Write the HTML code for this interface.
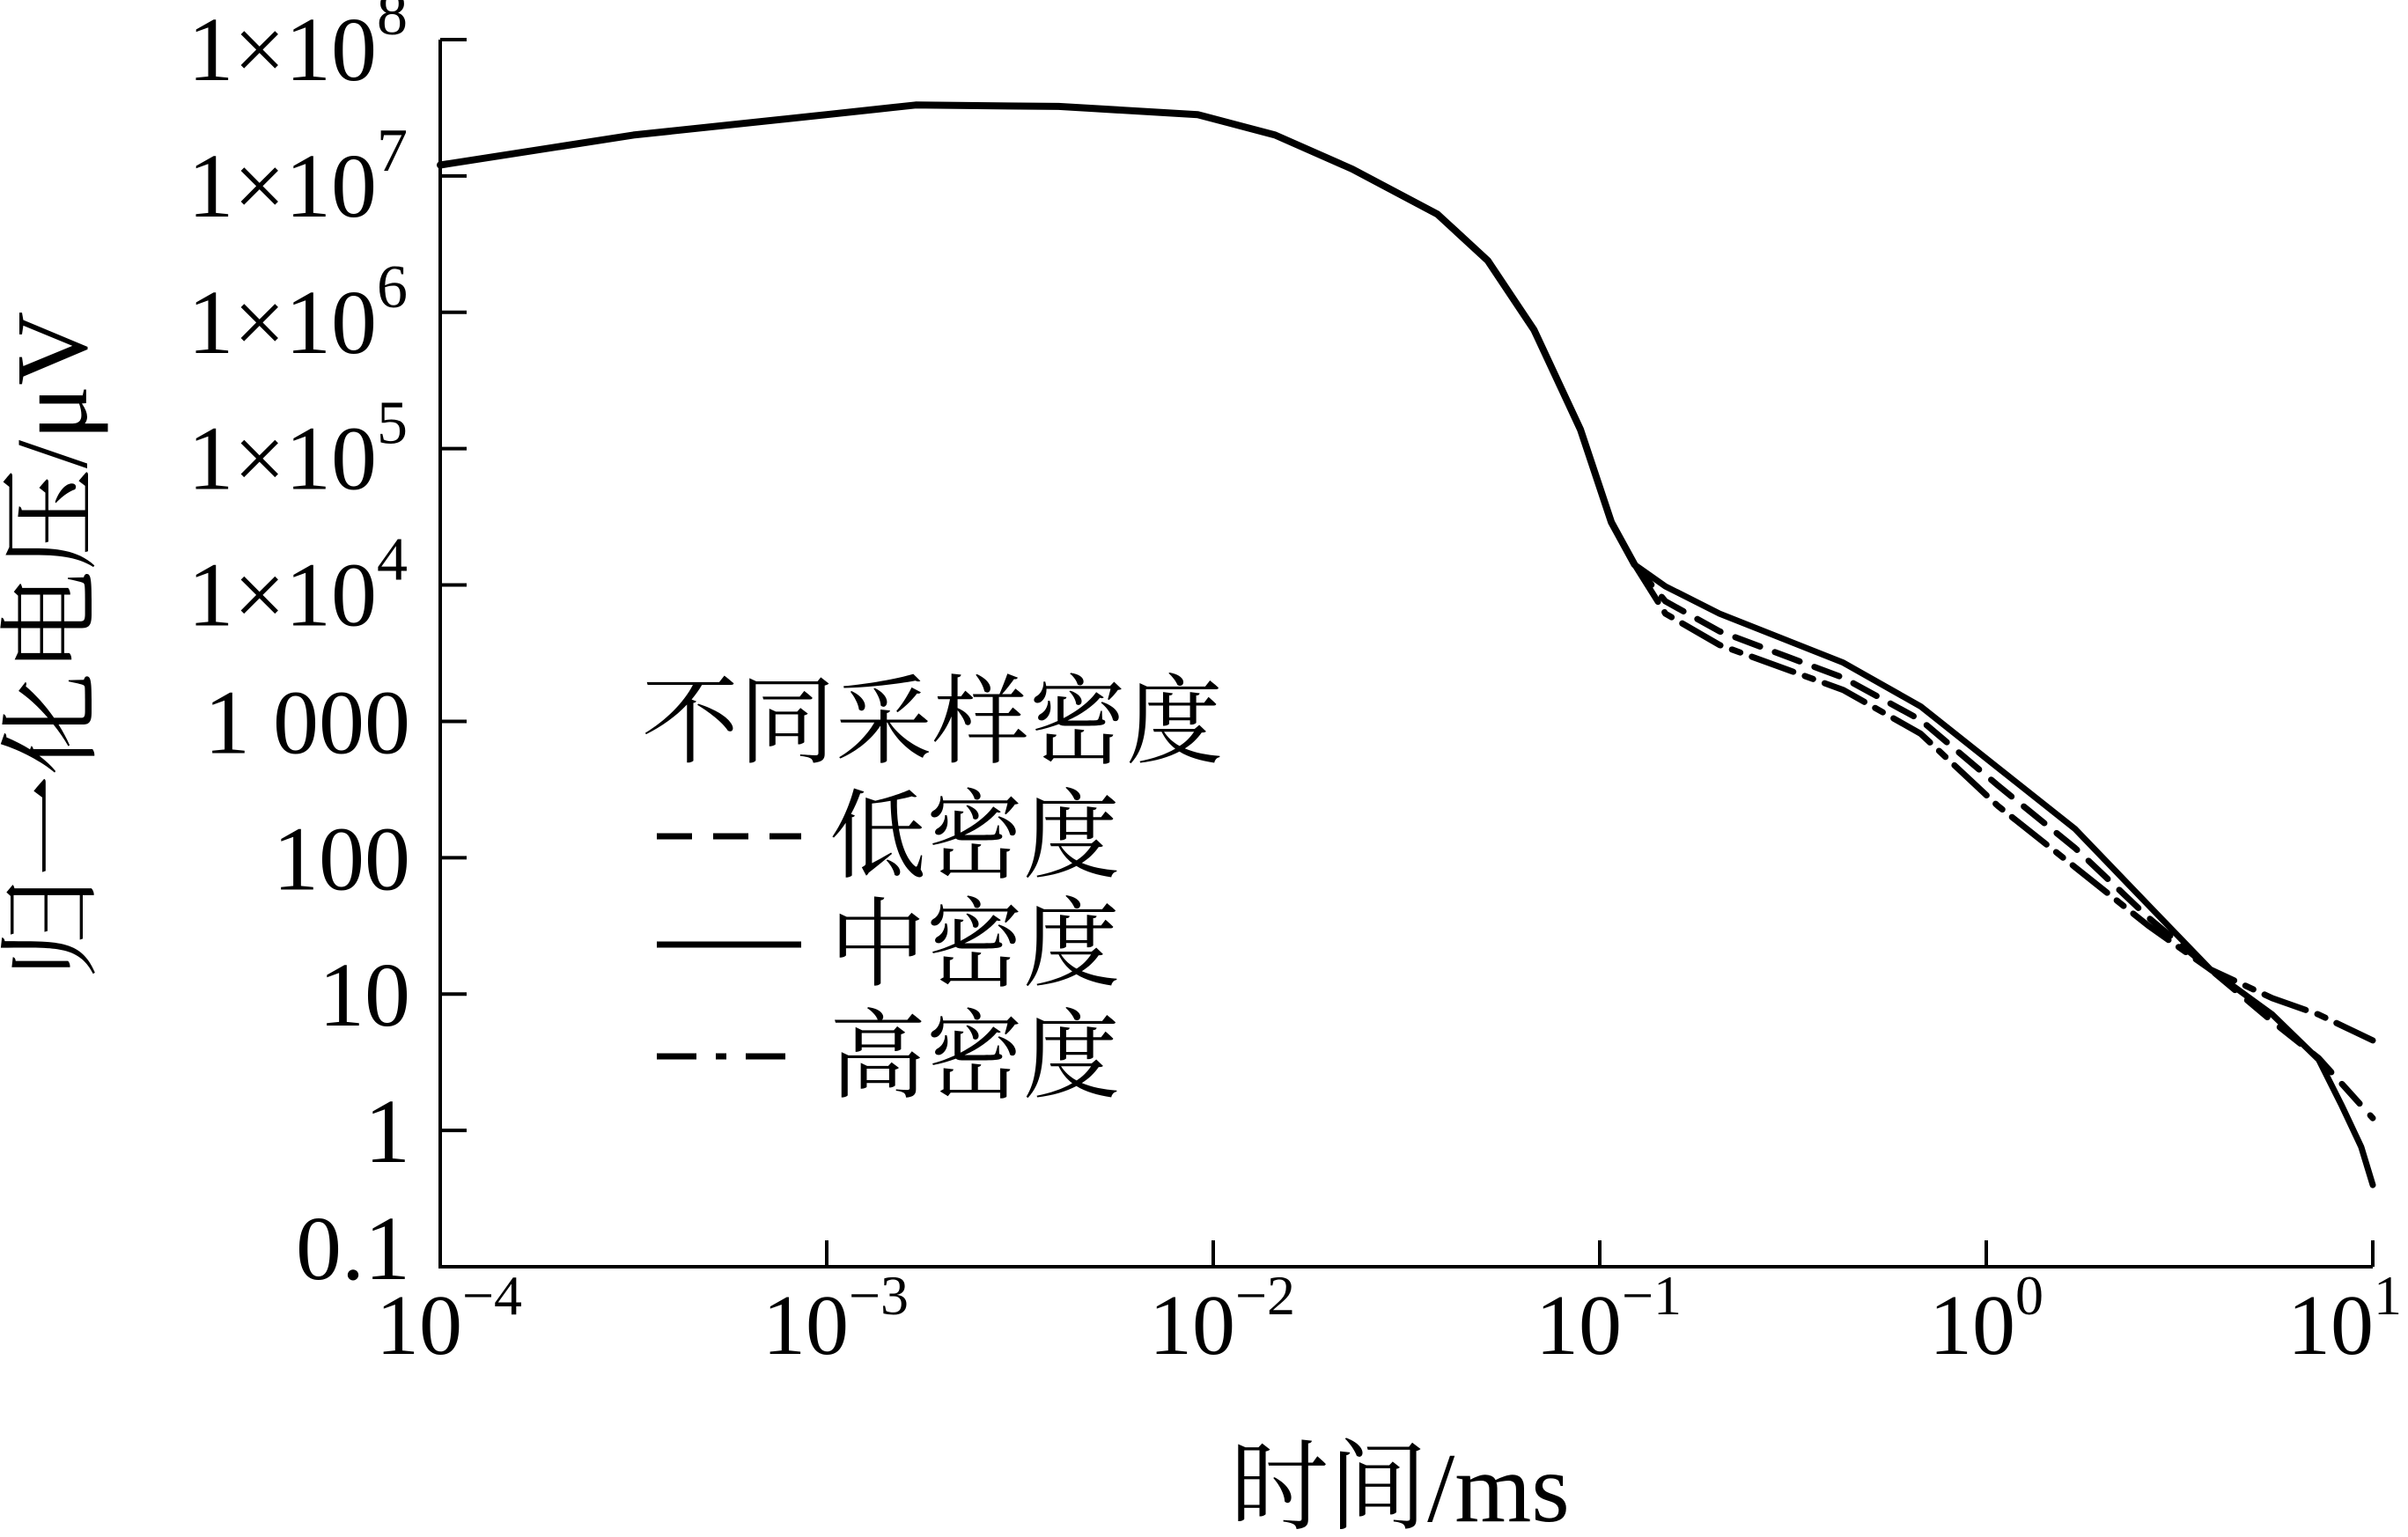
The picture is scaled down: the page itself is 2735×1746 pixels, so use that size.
<!DOCTYPE html>
<html><head><meta charset="utf-8"><style>
html,body{margin:0;padding:0;background:#fff;}
svg{display:block;}
text{font-family:"Liberation Serif","Noto Serif CJK SC",serif;fill:#000;}
</style></head><body>
<svg id="chart" width="2735" height="1746" viewBox="0 0 2735 1746" xmlns="http://www.w3.org/2000/svg">
<g id="axes"></g>
<g id="series"></g>
<g id="legend">
<text x="729" y="858" font-size="110">不同采样密度</text>
<line x1="746" y1="950" x2="910" y2="950" stroke="#000" stroke-width="7" stroke-dasharray="40,24"/>
<text x="942" y="988" font-size="110">低密度</text>
<line x1="746" y1="1073" x2="910" y2="1073" stroke="#000" stroke-width="7"/>
<text x="942" y="1111" font-size="110">中密度</text>
<line x1="746" y1="1200" x2="910" y2="1200" stroke="#000" stroke-width="7" stroke-dasharray="45,22,12,22"/>
<text x="942" y="1238" font-size="110">高密度</text>
</g>
<text x="1590" y="1728" font-size="112" text-anchor="middle">时间/ms</text>
<text transform="translate(98,733) rotate(-90)" font-size="116" text-anchor="middle">归一化电压/μV</text>
</svg>
<script>
const xTicks = [-4,-3,-2,-1,0,1];
const yTicks = [8,7,6,5,4,3,2,1,0,-1];
const yTickLabels = ["1×10^8","1×10^7","1×10^6","1×10^5","1×10^4","1 000","100","10","1","0.1"];
const commonT = [-4,-3.5,-3,-2.77,-2.4,-2.04,-1.84,-1.64,-1.42,-1.29,-1.17,-1.05,-0.97,-0.91];
const commonV = [7.08,7.30,7.45,7.52,7.51,7.45,7.30,7.05,6.72,6.38,5.87,5.14,4.46,4.15];
const midT = [-0.83,-0.69,-0.37,-0.17,0.03,0.23,0.42,0.58,0.74,0.86,0.92,0.97,1.0];
const midV = [3.99,3.79,3.43,3.11,2.66,2.21,1.65,1.18,0.85,0.52,0.18,-0.12,-0.40];
const lowT = [-0.83,-0.69,-0.37,-0.17,0.03,0.23,0.42,0.58,0.74,0.86,1.0];
const lowV = [3.88,3.66,3.32,3.01,2.53,2.07,1.56,1.18,0.80,0.53,0.09];
const highT = [-0.83,-0.69,-0.37,-0.17,0.03,0.23,0.42,0.58,0.74,0.86,1.0];
const highV = [3.79,3.56,3.23,2.91,2.38,1.93,1.50,1.18,0.97,0.85,0.66];

const X0=500, X1=2695, Y0=45, Y1=1439;
function xs(v){return X0+(v-(-4))/5*(X1-X0);}
function ys(v){return Y0+(8-v)/9*(Y1-Y0);}
const NS="http://www.w3.org/2000/svg";
const axes=document.getElementById('axes');
function mk(tag,attrs,parent){const e=document.createElementNS(NS,tag);for(const k in attrs)e.setAttribute(k,attrs[k]);parent.appendChild(e);return e;}

let l=mk('line',{x1:X0,y1:Y0,x2:X0,y2:Y1,stroke:'#000','stroke-width':4},axes);


l=mk('line',{x1:X0-2,y1:Y1,x2:X1,y2:Y1,stroke:'#000','stroke-width':4},axes);



xTicks.forEach(function(t,i){
  const x=xs(t);
  const tk=mk('line',{x1:x,y1:Y1,x2:x,y2:Y1-30,stroke:'#000','stroke-width':4},axes);
  
  
  const last=(i===xTicks.length-1);
  const tx=mk('text',{x:last?2728:x+(t<0?10:0),y:1538,'font-size':98,'text-anchor':last?'end':'middle'},axes);
  
  
  tx.textContent='10';
  const sp=document.createElementNS(NS,'tspan');
  sp.setAttribute('dy','-45');sp.setAttribute('font-size','64');
  sp.textContent=(t<0?'\u2212':'')+Math.abs(t);
  tx.appendChild(sp);
});
yTicks.forEach(function(t,i){
  const y=ys(t);
  const tk=mk('line',{x1:X0,y1:y,x2:X0+30,y2:y,stroke:'#000','stroke-width':4},axes);
  
  
  const lab=yTickLabels[i];
  const tx=mk('text',{x:466,y:y+36-(i===yTicks.length-1?22:0),'font-size':104,'text-anchor':'end'},axes);
  
  
  if(lab.indexOf('^')>=0){
    const p=lab.split('^');
    tx.setAttribute('x',463);
    tx.setAttribute('y',y+46);
    tx.textContent=p[0];
    const sp=document.createElementNS(NS,'tspan');
    sp.setAttribute('dy','-52');sp.setAttribute('font-size','70');
    sp.textContent=p[1];
    tx.appendChild(sp);
  } else tx.textContent=lab;
});

function path(T,V){let d='';for(let i=0;i<T.length;i++){d+=(i?'L':'M')+xs(T[i]).toFixed(1)+','+ys(V[i]).toFixed(1);}return d;}
const ser=document.getElementById('series');
function line(T,V,dash,name,w){
  const p=mk('path',{d:path(T,V),fill:'none',stroke:'#000','stroke-width':w||7,'stroke-linejoin':'round','stroke-linecap':'round'},ser);
  if(dash)p.setAttribute('stroke-dasharray',dash);
  
  
}
const cT=commonT, cV=commonV;
line(cT,cV,null,'common-segment',8);
line([cT[cT.length-1]].concat(lowT),[cV[cV.length-1]].concat(lowV),'30,18','series-low-density');
line([cT[cT.length-1]].concat(midT),[cV[cV.length-1]].concat(midV),null,'series-mid-density');
line([cT[cT.length-1]].concat(highT),[cV[cV.length-1]].concat(highV),'50,14,10,14','series-high-density');
</script>
</body></html>
